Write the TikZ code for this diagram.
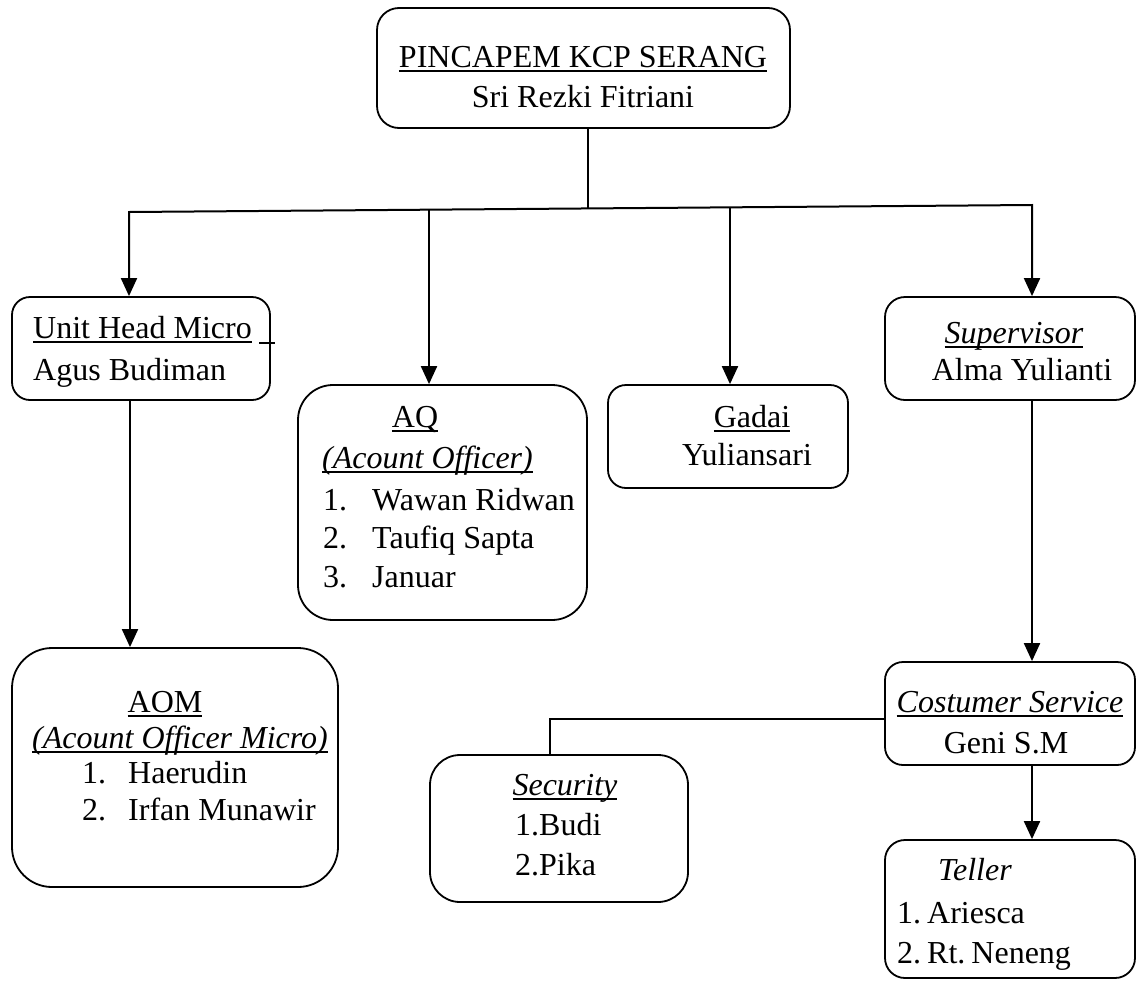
\documentclass[tikz,border=0pt]{standalone}
\usepackage{fontspec}
\setmainfont{Liberation Serif}
\usetikzlibrary{arrows.meta}
\newsavebox{\ulbox}
\newcommand{\thickul}[1]{\sbox{\ulbox}{#1}\rlap{\usebox{\ulbox}}\raisebox{-4.5pt}{\rule{\wd\ulbox}{1.6pt}}}
\begin{document}
\begin{tikzpicture}[x=1pt,y=-1pt,
  box/.style={draw=black, line width=1.8pt, inner sep=0pt, rounded corners=#1},
  box/.default=18pt,
  lbl/.style={inner sep=0pt, anchor=base, font=\fontsize{32}{38}\selectfont},
  lbll/.style={lbl, anchor=base west},
  conn/.style={line width=2pt},
  arr/.style={conn, -{Triangle[width=16pt,length=18pt]}},
  arrb/.style={conn, {Triangle[width=16pt,length=18pt]}-{Triangle[width=16pt,length=18pt]}}
]
\useasboundingbox (0,0) rectangle (1137,980);

% boxes
\node[box=22pt, minimum width=413pt, minimum height=120pt] (top) at (583.5,68) {};
\node[box=18pt, minimum width=258pt, minimum height=103pt] (unit) at (141,348.5) {};
\node[box=35pt, minimum width=289pt, minimum height=235pt] (aq) at (442.5,502.5) {};
\node[box=18pt, minimum width=240pt, minimum height=103pt] (gadai) at (728,436.5) {};
\node[box=20pt, minimum width=250pt, minimum height=103pt] (sup) at (1010,348.5) {};
\node[box=40pt, minimum width=326pt, minimum height=239pt] (aom) at (175,767.5) {};
\node[box=18pt, minimum width=250pt, minimum height=103pt] (cs) at (1010,713.5) {};
\node[box=30pt, minimum width=258pt, minimum height=147pt] (sec) at (559,828.5) {};
\node[box=20pt, minimum width=250pt, minimum height=138pt] (teller) at (1010,909) {};

% texts
\node[lbl] (t1) at (583,67) {\thickul{PINCAPEM KCP SERANG}};
\node[lbl] (t2) at (583,107) {Sri Rezki Fitriani};

\node[lbll] (u1) at (33,338) {\thickul{Unit Head Micro}};
\node[lbll] (u2) at (33,380) {Agus Budiman};
\coordinate (us1) at (259,343);
\coordinate (us2) at (275,343);
\draw[line width=1.6pt] (us1) -- (us2);

\node[lbl] (q1) at (415,427) {\thickul{AQ}};
\node[lbll] (q2) at (322,468) {\thickul{\textit{(Acount Officer)}}};
\node[lbll] (q3n) at (323,510) {1.};
\node[lbll] (q3) at (372,510) {Wawan Ridwan};
\node[lbll] (q4n) at (323,548) {2.};
\node[lbll] (q4) at (372,548) {Taufiq Sapta};
\node[lbll] (q5n) at (323,587) {3.};
\node[lbll] (q5) at (372,587) {Januar};

\node[lbl] (g1) at (752,427) {\thickul{Gadai}};
\node[lbl] (g2) at (747,465) {Yuliansari};

\node[lbl] (s1) at (1014,343) {\thickul{\textit{Supervisor}}};
\node[lbl] (s2) at (1022,380) {Alma Yulianti};

\node[lbl] (m1) at (165,712) {\thickul{AOM}};
\node[lbll] (m2) at (32,748) {\thickul{\textit{(Acount Officer Micro)}}};
\node[lbll] (m3n) at (82,783) {1.};
\node[lbll] (m3) at (128,783) {Haerudin};
\node[lbll] (m4n) at (82,820) {2.};
\node[lbll] (m4) at (128,820) {Irfan Munawir};

\node[lbl] (c1) at (1010,712) {\thickul{\textit{Costumer Service}}};
\node[lbl] (c2) at (1006,753) {Geni S.M};

\node[lbll] (e1) at (938,880) {\textit{Teller}};
\node[lbll] (e2) at (897,923) {1.\hspace{6pt}Ariesca};
\node[lbll] (e3) at (897,963) {2.\hspace{6pt}Rt.\hspace{6pt}Neneng};

\node[lbl] (k1) at (565,795) {\thickul{\textit{Security}}};
\node[lbll] (k2) at (515,835) {1.Budi};
\node[lbll] (k3) at (515,875) {2.Pika};

% connectors
\coordinate (bL) at (129,212);
\coordinate (bR) at (1032,205);
\coordinate (j) at (588,208.5);
\coordinate (xa) at (429,210);
\coordinate (xg) at (730,207);
\coordinate (xu) at (130,0);
\coordinate (xs) at (1032,0);
\coordinate (sj) at (550,719);

\draw[conn] (top.south -| j) -- (j);
\draw[arrb] (bL |- unit.north) -- (bL) -- (bR) -- (bR |- sup.north);
\draw[arr] (xa) -- (xa |- aq.north);
\draw[arr] (xg) -- (xg |- gadai.north);
\draw[arr] (xu |- unit.south) -- (xu |- aom.north);
\draw[arr] (xs |- sup.south) -- (xs |- cs.north);
\draw[arr] (xs |- cs.south) -- (xs |- teller.north);
\draw[conn] (sj -| cs.west) -- (sj) -- (sj |- sec.north);
\end{tikzpicture}
\end{document}
